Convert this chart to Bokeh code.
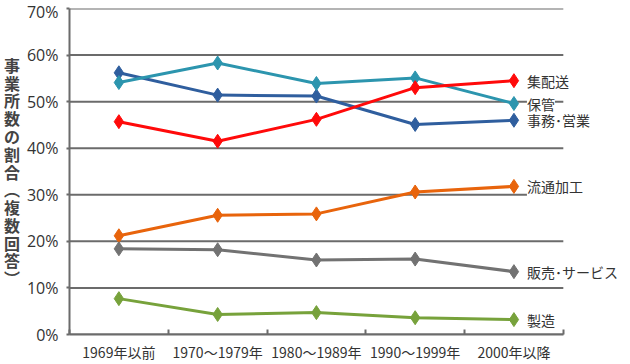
from bokeh.plotting import figure
from bokeh.models import Range1d, FixedTicker, PrintfTickFormatter, ColumnDataSource
from bokeh.core.properties import value
from bokeh.embed import file_html
from bokeh.resources import INLINE

categories = ["1969年以前", "1970～1979年", "1980～1989年", "1990～1999年", "2000年以降"]
series_names = ["事務･営業", "保管", "集配送", "流通加工", "販売･サービス", "製造"]
office_sales = [56.2, 51.4, 51.2, 45.1, 46.0]
storage = [54.1, 58.3, 53.9, 55.1, 49.6]
delivery = [45.7, 41.5, 46.2, 53.0, 54.5]
processing = [21.2, 25.6, 25.9, 30.6, 31.8]
retail_service = [18.4, 18.2, 16.0, 16.2, 13.5]
manufacturing = [7.7, 4.3, 4.7, 3.6, 3.2]
y_ticks = [0, 10, 20, 30, 40, 50, 60, 70]
y_title = "事業所数の割合（複数回答）"

colors = ["#2F5E9E", "#2C95AE", "#FF0A0A", "#E8640C", "#727272", "#77A23B"]
all_values = [office_sales, storage, delivery, processing, retail_service, manufacturing]

FONT = "Noto Sans CJK JP"
TXT = "#333333"
GRID = "#6b6b6b"

n = len(categories)
# frame extends right of the last category so the end labels have room
p = figure(width=630, height=364, output_backend="svg", toolbar_location=None,
           x_range=Range1d(0, n + 0.66), y_range=Range1d(y_ticks[0], y_ticks[-1]),
           min_border_left=69, min_border_right=2, min_border_top=8, min_border_bottom=29)
p.outline_line_color = None
p.background_fill_color = "white"

xs = [i + 0.5 for i in range(n)]

# horizontal grid lines limited to the category span
p.segment(x0=[0] * len(y_ticks), x1=[n] * len(y_ticks), y0=y_ticks, y1=y_ticks,
          line_color=GRID, line_width=2, level="underlay")

# x axis
p.xaxis.bounds = (0, n)
p.xaxis.ticker = FixedTicker(ticks=xs, minor_ticks=list(range(n + 1)))
p.xaxis.major_label_overrides = {x: c for x, c in zip(xs, categories)}
p.xaxis.major_tick_line_color = None
p.xaxis.minor_tick_in = 5
p.xaxis.minor_tick_out = 0
p.xaxis.minor_tick_line_color = GRID
p.xaxis.minor_tick_line_width = 2
p.xaxis.axis_line_color = GRID
p.xaxis.axis_line_width = 2
p.xaxis.major_label_text_font = FONT
p.xaxis.major_label_text_font_size = "14px"
p.xaxis.major_label_text_color = TXT
p.xaxis.major_label_standoff = 1
p.xgrid.grid_line_color = None
p.ygrid.grid_line_color = None

# y axis
p.yaxis.ticker = FixedTicker(ticks=y_ticks)
p.yaxis.formatter = PrintfTickFormatter(format="%d%%")
p.yaxis.major_tick_out = 3
p.yaxis.major_tick_in = 0
p.yaxis.major_tick_line_color = GRID
p.yaxis.major_tick_line_width = 2
p.yaxis.minor_tick_line_color = None
p.yaxis.axis_line_color = GRID
p.yaxis.axis_line_width = 2
p.yaxis.major_label_text_font = "Open Sans"
p.yaxis.major_label_text_font_size = "16px"
p.yaxis.major_label_text_color = TXT
p.yaxis.major_label_standoff = 8
vert = y_title.replace("（", "︵").replace("）", "︶")
p.yaxis.axis_label = "\n".join(vert)
p.yaxis.axis_label_orientation = "horizontal"
p.yaxis.axis_label_text_font = FONT
p.yaxis.axis_label_text_font_size = "16px"
p.yaxis.axis_label_text_font_style = "bold"
p.yaxis.axis_label_text_color = "#444444"
p.yaxis.axis_label_text_line_height = 0.74
p.yaxis.axis_label_standoff = 4

for vals, col in zip(all_values, colors):
    p.line(xs, vals, line_color=col, line_width=3)
    p.scatter(xs, vals, marker="diamond", size=14, fill_color=col, line_color=col)

# series labels at last point
src = ColumnDataSource(dict(x=[xs[-1]] * len(series_names),
                            y=[v[-1] for v in all_values],
                            t=series_names))
p.text(x="x", y="y", text="t", source=src, x_offset=13,
       text_font=value(FONT), text_font_size="14px", text_color=TXT,
       text_baseline="middle", text_align="left",
       background_fill_color="white")

open("out.html", "w").write(file_html(p, INLINE))
